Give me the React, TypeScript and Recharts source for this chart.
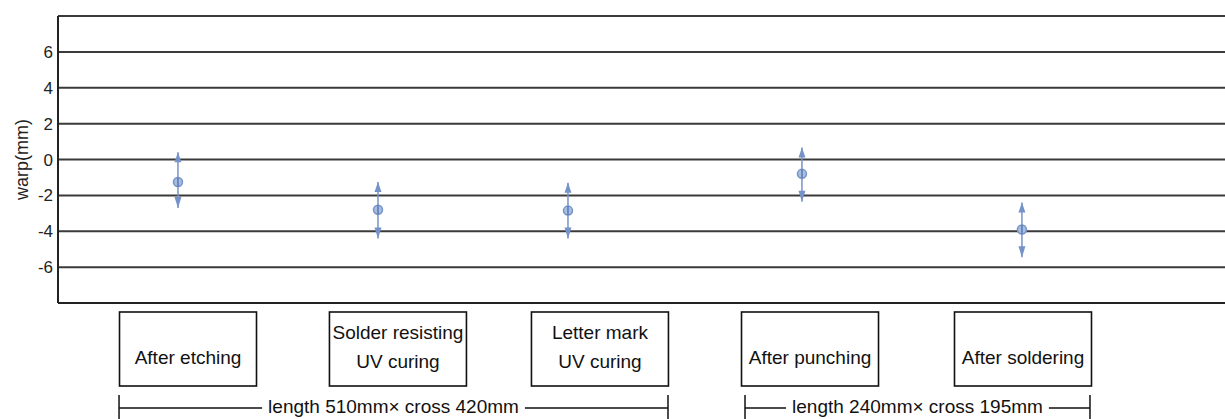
import React from 'react';
import { ScatterChart, Scatter, XAxis, YAxis, CartesianGrid, ErrorBar, ReferenceLine } from 'recharts';

// ---- data ----
const stageLabels: string[][] = [
  ['After etching'],
  ['Solder resisting', 'UV curing'],
  ['Letter mark', 'UV curing'],
  ['After punching'],
  ['After soldering'],
];
const stageX = [10.28, 27.42, 43.7, 63.75, 82.6];
const labelX = [11.14, 29.13, 46.44, 64.44, 82.69];
const warpMean = [-1.25, -2.8, -2.85, -0.8, -3.9];
const warpHigh = [0.4, -1.25, -1.3, 0.67, -2.4];
const warpLow = [-2.7, -4.4, -4.4, -2.35, -5.45];
const yTicks = [-6, -4, -2, 0, 2, 4, 6];
const groupLabels = ['length 510mm\u00d7 cross 420mm', 'length 240mm\u00d7 cross 195mm'];
const groupFrom = [5.23, 58.87];
const groupTo = [52.27, 88.43];

// ---- layout ----
const W = 1225;
const H = 419;
const LEFT = 58;
const TOP = 16;
const XH = 116;
const PLOT_W = W - LEFT;
const X_DOMAIN: [number, number] = [0, 100];
const FONT = '"Liberation Sans", Arial, Helvetica, sans-serif';
const BLUE = '#7593c8';
const BLUE_DARK = '#5d7cb5';

const meanData = stageX.map((x, i) => ({ x, y: warpMean[i], err: [warpMean[i] - warpLow[i], warpHigh[i] - warpMean[i]] }));
const highData = stageX.map((x, i) => ({ x, y: warpHigh[i] }));
const lowData = stageX.map((x, i) => ({ x, y: warpLow[i] }));

const sx = (v: number) => LEFT + ((v - X_DOMAIN[0]) / (X_DOMAIN[1] - X_DOMAIN[0])) * PLOT_W;

const measure = (text: string, font: string) => {
  try {
    const c = document.createElement('canvas').getContext('2d');
    if (!c) return text.length * 10;
    c.font = font;
    return c.measureText(text).width;
  } catch {
    return text.length * 10;
  }
};

const CenterShape = (p: any) => {
  const { cx, cy } = p;
  if (cx == null || cy == null) return null;
  return (
    <g>
      <circle cx={cx} cy={cy} r={4.5} fill="#a8bde2" stroke={BLUE} strokeWidth={1.5} />
      <line x1={cx} x2={cx} y1={cy - 4.5} y2={cy + 4.5} stroke={BLUE_DARK} strokeWidth={1.6} />
    </g>
  );
};

const UpShape = (p: any) => {
  const { cx, cy } = p;
  if (cx == null || cy == null) return null;
  return <path d={`M${cx},${cy} L${cx + 3.5},${cy + 10} L${cx - 3.5},${cy + 10} Z`} fill={BLUE} />;
};

const DownShape = (p: any) => {
  const { cx, cy } = p;
  if (cx == null || cy == null) return null;
  return <path d={`M${cx},${cy} L${cx + 3.5},${cy - 11} L${cx - 3.5},${cy - 11} Z`} fill={BLUE} />;
};

const BoxTick = (p: any) => {
  const { x, y, payload } = p;
  const idx = labelX.indexOf(payload.value);
  const lines = idx >= 0 ? stageLabels[idx] : [];
  const bw = 137;
  const bh = 74;
  const top = y + 9;
  return (
    <g>
      <rect x={x - bw / 2} y={top} width={bw} height={bh} fill="none" stroke="#111" strokeWidth={1.6} />
      {lines.length === 1 ? (
        <text x={x} y={top + 52} textAnchor="middle" fontFamily={FONT} fontSize={19} fill="#111">
          {lines[0]}
        </text>
      ) : (
        lines.map((l, i) => (
          <text key={i} x={x} y={top + 27 + i * 29} textAnchor="middle" fontFamily={FONT} fontSize={19} fill="#111">
            {l}
          </text>
        ))
      )}
    </g>
  );
};

export default function App() {
  const bracketY = 408;
  const bracketFont = `19px ${FONT}`;
  return (
    <div style={{ position: 'absolute', left: 0, top: 0, width: W, height: H, background: '#fff' }}>
      <ScatterChart width={W} height={H} margin={{ top: TOP, right: 0, bottom: 0, left: 0 }}>
        <CartesianGrid horizontal vertical={false} stroke="#3a3a3a" strokeWidth={2} />
        <XAxis
          type="number"
          dataKey="x"
          domain={X_DOMAIN}
          ticks={labelX}
          tick={<BoxTick />}
          tickLine={false}
          tickSize={0}
          tickMargin={0}
          height={XH}
          axisLine={{ stroke: '#222', strokeWidth: 2 }}
          interval={0}
        />
        <YAxis
          type="number"
          dataKey="y"
          domain={[-8, 8]}
          ticks={yTicks}
          width={LEFT}
          tickLine={false}
          tickSize={0}
          tickMargin={5}
          axisLine={{ stroke: '#222', strokeWidth: 2 }}
          tick={{ fill: '#222', fontSize: 17, fontFamily: FONT }}
          interval={0}
        />
        <ReferenceLine y={8} stroke="#3a3a3a" strokeWidth={2} />
        <Scatter data={meanData} shape={<CenterShape />} isAnimationActive={false}>
          <ErrorBar dataKey="err" direction="y" width={0} stroke={BLUE} strokeWidth={1.5} isAnimationActive={false} />
        </Scatter>
        <Scatter data={highData} shape={<UpShape />} isAnimationActive={false} />
        <Scatter data={lowData} shape={<DownShape />} isAnimationActive={false} />
      </ScatterChart>
      <svg width={W} height={H} style={{ position: 'absolute', left: 0, top: 0, pointerEvents: 'none' }}>
        <text
          transform={`translate(22, ${TOP + (H - XH - TOP) / 2}) rotate(-90)`}
          textAnchor="middle"
          dominantBaseline="central"
          fontFamily={FONT}
          fontSize={18}
          fill="#222"
        >
          warp(mm)
        </text>
        {groupLabels.map((label, i) => {
          const a = sx(groupFrom[i]);
          const b = sx(groupTo[i]);
          const mid = (a + b) / 2;
          const half = measure(label, bracketFont) / 2 + 6;
          return (
            <g key={i} stroke="#111" strokeWidth={1.5}>
              <line x1={a} x2={a} y1={bracketY - 13} y2={H} />
              <line x1={b} x2={b} y1={bracketY - 13} y2={H} />
              <line x1={a} x2={mid - half} y1={bracketY} y2={bracketY} />
              <line x1={mid + half} x2={b} y1={bracketY} y2={bracketY} />
              <text x={mid} y={bracketY + 5} textAnchor="middle" fontFamily={FONT} fontSize={19} fill="#111" stroke="none">
                {label}
              </text>
            </g>
          );
        })}
      </svg>
    </div>
  );
}
